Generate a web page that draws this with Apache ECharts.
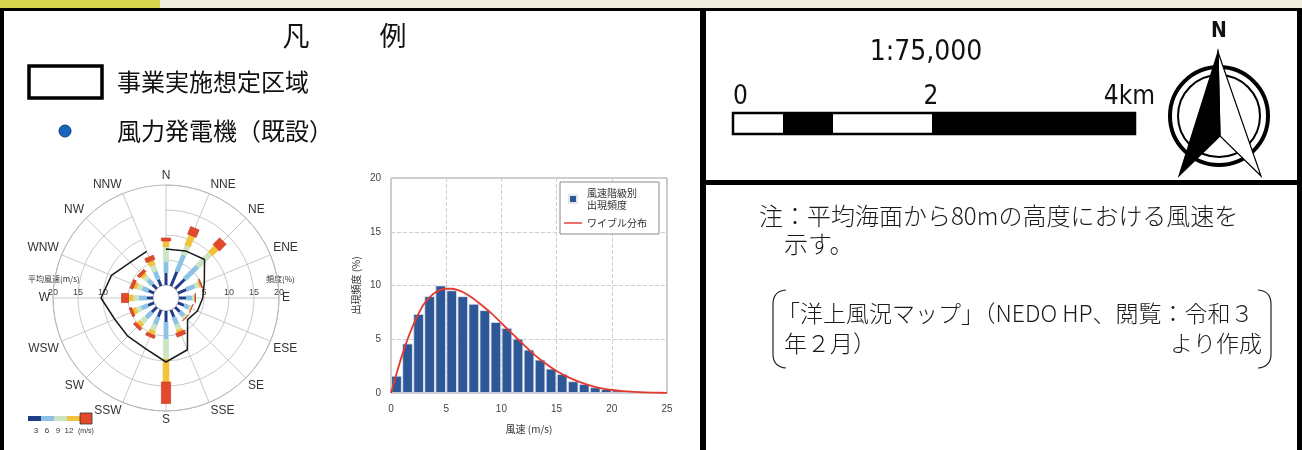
<!DOCTYPE html>
<html lang="ja">
<head>
<meta charset="utf-8">
<title>風況</title>
<script src="https://cdn.jsdelivr.net/npm/echarts@6/dist/echarts.min.js"></script>
<style>
  html, body { margin: 0; padding: 0; background: #fff; }
  #chart { width: 1302px; height: 450px; }
</style>
</head>
<body>
<div id="chart"></div>
<script>
// wind rose: 16 directions, frequency (%) by wind speed class
const directions = ['N', 'NNE', 'NE', 'ENE', 'E', 'ESE', 'SE', 'SSE', 'S', 'SSW', 'SW', 'WSW', 'W', 'WNW', 'NW', 'NNW']
const speedClassNames = ['0-3', '3-6', '6-9', '9-12', '12-']
const freqBelow3 = [2.4, 3.1, 2.7, 1.8, 1.4, 1.3, 1.3, 1.5, 2.2, 1.5, 1.4, 1.3, 1.3, 1.2, 1.2, 1.4]
const freq3to6 = [2.3, 3.6, 3.6, 1.8, 1.2, 1.0, 1.1, 1.6, 3.4, 1.6, 1.6, 1.4, 1.5, 1.3, 1.3, 1.7]
const freq6to9 = [2.9, 1.9, 3.6, 0.8, 0.4, 0.4, 0.4, 1.0, 4.0, 1.2, 1.2, 1.0, 1.1, 1.0, 0.9, 1.3]
const freq9to12 = [1.2, 2.3, 1.7, 0.4, 0.2, 0.15, 0.15, 0.6, 4.6, 0.9, 0.9, 0.8, 1.0, 0.7, 0.6, 1.0]
const freqAbove12 = [0.6, 1.6, 1.9, 0.2, 0.1, 0.05, 0.05, 0.8, 4.3, 0.6, 0.6, 0.5, 1.4, 0.6, 0.6, 0.9]
// mean wind speed (m/s) per direction
const meanSpeed = [7.2, 7.6, 8.3, 5.7, 4.75, 4.2, 3.5, 8.6, 10.2, 8.3, 8.2, 8.5, 10.4, 9.2, 7.5, 7.5]
const colorBarLabels = ['3', '6', '9', '12']

// histogram: wind speed class frequency and weibull curve
const speedBins = [0.5, 1.5, 2.5, 3.5, 4.5, 5.5, 6.5, 7.5, 8.5, 9.5, 10.5, 11.5, 12.5, 13.5, 14.5, 15.5, 16.5, 17.5, 18.5, 19.5, 20.5, 21.5, 22.5, 23.5, 24.5]
const binFreq = [1.6, 4.6, 7.35, 9.0, 10.0, 9.55, 9.0, 8.3, 7.7, 6.6, 6.05, 5.05, 4.03, 3.1, 2.26, 1.77, 1.09, 0.84, 0.53, 0.37, 0.25, 0.15, 0.09, 0.06, 0.03]
const weibullX = [0, 0.5, 1, 1.5, 2, 2.5, 3, 3.5, 4, 4.5, 5, 5.5, 6, 6.5, 7, 7.5, 8, 9, 10, 11, 12, 13, 14, 15, 16, 17, 18, 19, 20, 21, 22, 23, 24, 25]
const weibullY = [0, 1.8, 3.5, 5.0, 6.3, 7.4, 8.3, 8.9, 9.35, 9.6, 9.7, 9.7, 9.6, 9.4, 9.1, 8.75, 8.35, 7.5, 6.5, 5.5, 4.5, 3.55, 2.75, 2.05, 1.5, 1.05, 0.7, 0.45, 0.28, 0.17, 0.1, 0.05, 0.03, 0.01]

const JP = '"Noto Sans CJK JP", sans-serif'
const SANS = '"Liberation Sans", Arial, sans-serif'
const COND = '"DejaVu Sans Condensed", "Liberation Sans Narrow", sans-serif'
const classColors = ['#213c8a', '#8cc2e6', '#cbe5c2', '#f2c23a', '#e34a2c']
const classHalfWidth = [1.5, 2.4, 2.9, 3.3, 4.6]
const roseCenter = [166, 298]
const roseRadius = [13, 113]

const chart = echarts.init(document.getElementById('chart'), null, { renderer: 'canvas' })

const rect = (x, y, w, h, fill, stroke, lw) => ({
    type: 'rect', silent: true,
    shape: { x, y, width: w, height: h },
    style: { fill: fill, stroke: stroke || null, lineWidth: lw || 0 }
})
const text = (t, x, y, size, align, family, extra) => ({
    type: 'text', silent: true, x, y,
    style: Object.assign({
        text: t, fontSize: size, fontFamily: family || JP, fill: '#111',
        align: align, textAlign: align, verticalAlign: 'middle', textVerticalAlign: 'middle'
    }, extra || {})
})
const curve = (x1, y1, cx, cy, x2, y2) => ({
    type: 'bezierCurve', silent: true,
    shape: { x1, y1, x2, y2, cpx1: cx, cpy1: cy },
    style: { stroke: '#222', lineWidth: 1.2, fill: null }
})
const line = (x1, y1, x2, y2, lw) => ({
    type: 'line', silent: true,
    shape: { x1, y1, x2, y2 },
    style: { stroke: '#222', lineWidth: lw || 1.2 }
})

// stacked segments [start, direction, end, class]
const classData = [freqBelow3, freq3to6, freq6to9, freq9to12, freqAbove12]
const roseSegments = []
directions.forEach((d, i) => {
    let base = 0
    classData.forEach((arr, k) => {
        roseSegments.push([base, i, base + arr[i], k])
        base += arr[i]
    })
})

function renderRoseBar(params, api) {
    const cs = params.coordSys
    const dir = api.value(1)
    const k = api.value(3)
    const p0 = api.coord([api.value(0), dir])
    const p1 = api.coord([api.value(2), dir])
    const pe = api.coord([20, dir])
    let ux = pe[0] - cs.cx, uy = pe[1] - cs.cy
    const len = Math.sqrt(ux * ux + uy * uy)
    ux /= len; uy /= len
    const w = classHalfWidth[k]
    const nx = -uy * w, ny = ux * w
    return {
        type: 'polygon',
        shape: { points: [[p0[0] + nx, p0[1] + ny], [p1[0] + nx, p1[1] + ny], [p1[0] - nx, p1[1] - ny], [p0[0] - nx, p0[1] - ny]] },
        style: { fill: classColors[k], stroke: k === 4 ? '#b8321c' : null, lineWidth: k === 4 ? 0.6 : 0 }
    }
}

const meanLine = directions.map((d, i) => [meanSpeed[i], i])
meanLine.push([meanSpeed[0], 0])

// colour scale bar under the rose
const colorBar = []
classColors.forEach((c, i) => {
    if (i < 4) colorBar.push(rect(28 + i * 13, 416, 13, 5, c))
    else colorBar.push(rect(80, 413, 12, 11, c, '#333', 0.8))
})
colorBarLabels.forEach((t, i) => {
    colorBar.push(text(t, 36 + i * 11, 431, 8, 'center', SANS, { fill: '#333' }))
})
colorBar.push(text('(m/s)', 78, 431, 7, 'left', SANS, { fill: '#333' }))

const noteStyle = { fill: '#1a1a1a', fontWeight: 300 }

const option = {
    animation: false,
    backgroundColor: '#fff',
    polar: [
        { center: roseCenter, radius: roseRadius },
        { center: roseCenter, radius: roseRadius },
        { center: roseCenter, radius: roseRadius }
    ],
    angleAxis: [
        {
            polarIndex: 0, type: 'category', data: directions, boundaryGap: false,
            startAngle: 90, clockwise: true,
            axisLine: { lineStyle: { color: '#b8b8b8', width: 1 } },
            axisTick: { show: false },
            axisLabel: { margin: 3, color: '#333', fontSize: 12, fontFamily: SANS, align: 'center', verticalAlign: 'middle' },
            splitLine: { show: true, lineStyle: { color: '#c9c9c9', width: 1 } },
            z: 1
        },
        { polarIndex: 1, type: 'value', startAngle: 0, min: 0, max: 360, show: false },
        { polarIndex: 2, type: 'value', startAngle: 180, min: 0, max: 360, show: false }
    ],
    radiusAxis: [
        {
            polarIndex: 0, min: 0, max: 20, interval: 5,
            axisLine: { show: false }, axisTick: { show: false }, axisLabel: { show: false },
            splitLine: { show: true, lineStyle: { color: '#c9c9c9', width: 1 } }
        },
        {
            polarIndex: 1, min: 0, max: 20, interval: 5,
            axisLine: { show: false }, axisTick: { show: false }, splitLine: { show: false },
            axisLabel: { formatter: v => (v === 0 ? '' : v), fontSize: 9, color: '#444', fontFamily: SANS, margin: 1 }
        },
        {
            polarIndex: 2, min: 0, max: 20, interval: 5,
            axisLine: { show: false }, axisTick: { show: false }, splitLine: { show: false },
            axisLabel: { formatter: v => (v >= 10 ? v : ''), fontSize: 9, color: '#444', fontFamily: SANS, margin: -1, verticalAlign: 'bottom' }
        }
    ],
    grid: {
        left: 391, top: 178, width: 276, height: 215,
        show: true, borderColor: '#9a9a9a', borderWidth: 1
    },
    xAxis: {
        type: 'value', min: 0, max: 25, interval: 5,
        axisLine: { show: false }, axisTick: { show: false },
        axisLabel: { color: '#444', fontSize: 10, margin: 11, fontFamily: SANS },
        splitLine: { show: true, lineStyle: { type: 'dashed', color: '#cfcfcf' } },
        name: '風速 (m/s)', nameLocation: 'middle', nameGap: 31,
        nameTextStyle: { fontSize: 10, color: '#333', fontFamily: JP }
    },
    yAxis: {
        type: 'value', min: 0, max: 20, interval: 5,
        axisLine: { show: false }, axisTick: { show: false },
        axisLabel: { color: '#444', fontSize: 10, margin: 10, fontFamily: SANS },
        splitLine: { show: true, lineStyle: { type: 'dashed', color: '#cfcfcf' } },
        name: '出現頻度 (%)', nameLocation: 'middle', nameGap: 30, nameRotate: 90,
        nameTextStyle: { fontSize: 10, color: '#333', fontFamily: JP }
    },
    legend: {
        left: 560, top: 182, orient: 'vertical',
        data: [
            { name: '風速階級別\n出現頻度', icon: 'path://M0,0h10v10h-10z' },
            { name: 'ワイブル分布', icon: 'path://M0,4h20v1.6h-20z' }
        ],
        itemWidth: 18, itemHeight: 8, itemGap: 6,
        padding: [5, 12, 5, 4],
        borderColor: '#8a8a8a', borderWidth: 1, backgroundColor: '#fff',
        textStyle: { fontSize: 10, color: '#333', fontFamily: JP, lineHeight: 12 },
        selectedMode: false
    },
    series: [
        {
            type: 'custom', name: '風速階級', coordinateSystem: 'polar', polarIndex: 0,
            data: roseSegments, encode: { radius: [0, 2], angle: 1 },
            renderItem: renderRoseBar, silent: true, z: 2
        },
        {
            type: 'line', name: '平均風速', coordinateSystem: 'polar', polarIndex: 0,
            data: meanLine, symbol: 'none',
            lineStyle: { color: '#1a1a1a', width: 1.5 }, z: 5
        },
        {
            type: 'bar', name: '風速階級別\n出現頻度', xAxisIndex: 0, yAxisIndex: 0,
            data: speedBins.map((x, i) => [x, binFreq[i]]),
            barWidth: 10.5,
            itemStyle: { color: '#2d5797', borderColor: '#e4e7ee', borderWidth: 0.8 }
        },
        {
            type: 'line', name: 'ワイブル分布', xAxisIndex: 0, yAxisIndex: 0,
            data: weibullX.map((x, i) => [x, weibullY[i]]),
            smooth: 0.3, symbol: 'none',
            lineStyle: { color: '#e33b30', width: 1.8 }, itemStyle: { color: '#e33b30' }, z: 4
        }
    ],
    graphic: {
        elements: [
            // top strip of map and frames
            rect(0, 0, 1302, 8, '#efeedf'),
            rect(0, 0, 160, 8, '#d6d34c'),
            rect(0, 8, 1302, 3, '#000'),
            rect(0, 8, 4, 442, '#000'),
            rect(700, 8, 6, 442, '#000'),
            rect(1297, 8, 5, 442, '#000'),
            rect(706, 180, 592, 5, '#000'),

            // legend panel
            text('凡', 296, 36, 27, 'center'),
            text('例', 393, 36, 27, 'center'),
            rect(29, 66, 73, 32, '#fff', '#000', 3.5),
            text('事業実施想定区域', 117, 82, 24, 'left'),
            { type: 'circle', silent: true, shape: { cx: 65, cy: 131, r: 6 }, style: { fill: '#1766bf', stroke: '#0d3b78', lineWidth: 1 } },
            text('風力発電機（既設）', 117, 131, 24, 'left'),

            // rose axis titles
            text('平均風速(m/s)', 28, 279, 8, 'left', JP, { fill: '#333' }),
            text('頻度(%)', 266, 279, 8, 'left', JP, { fill: '#333' })
        ].concat(colorBar).concat([
            // scale
            text('1:75,000', 926, 53, 28, 'center', COND),
            text('0', 733, 97, 26, 'left', COND),
            text('2', 931, 97, 26, 'center', COND),
            text('4km', 1155, 97, 26, 'right', COND),
            rect(733, 113, 402, 21, '#fff', '#000', 2.5),
            rect(783, 113, 50, 21, '#000'),
            rect(932, 113, 203, 21, '#000'),

            // north arrow
            text('N', 1219, 32, 21, 'center', COND, { fontWeight: 'bold' }),
            { type: 'circle', silent: true, shape: { cx: 1219, cy: 116, r: 49 }, style: { fill: '#fff', stroke: '#000', lineWidth: 4 } },
            { type: 'circle', silent: true, shape: { cx: 1219, cy: 116, r: 41 }, style: { fill: '#fff', stroke: '#000', lineWidth: 2 } },
            { type: 'polygon', silent: true, shape: { points: [[1218, 52], [1261, 176], [1220, 136]] }, style: { fill: '#fff', stroke: '#000', lineWidth: 1.2 } },
            { type: 'polygon', silent: true, shape: { points: [[1218, 52], [1179, 176], [1220, 136]] }, style: { fill: '#000', stroke: '#000', lineWidth: 1.2 } },

            // note
            text('注：平均海面から80mの高度における風速を', 759, 216, 24, 'left', JP, noteStyle),
            text('示す。', 784, 244, 24, 'left', JP, noteStyle),
            text('「洋上風況マップ」（NEDO HP、閲覧：令和３', 777, 313, 23, 'left', JP, noteStyle),
            text('年２月）', 784, 343, 23, 'left', JP, noteStyle),
            text('より作成', 1262, 343, 23, 'right', JP, noteStyle),
            curve(786, 290, 773, 291, 773, 304),
            line(773, 304, 773, 354),
            curve(773, 354, 773, 367, 786, 368),
            curve(1258, 290, 1271, 291, 1271, 304),
            line(1271, 304, 1271, 354),
            curve(1271, 354, 1271, 367, 1258, 368)
        ])
    }
}

chart.setOption(option)
</script>
</body>
</html>
